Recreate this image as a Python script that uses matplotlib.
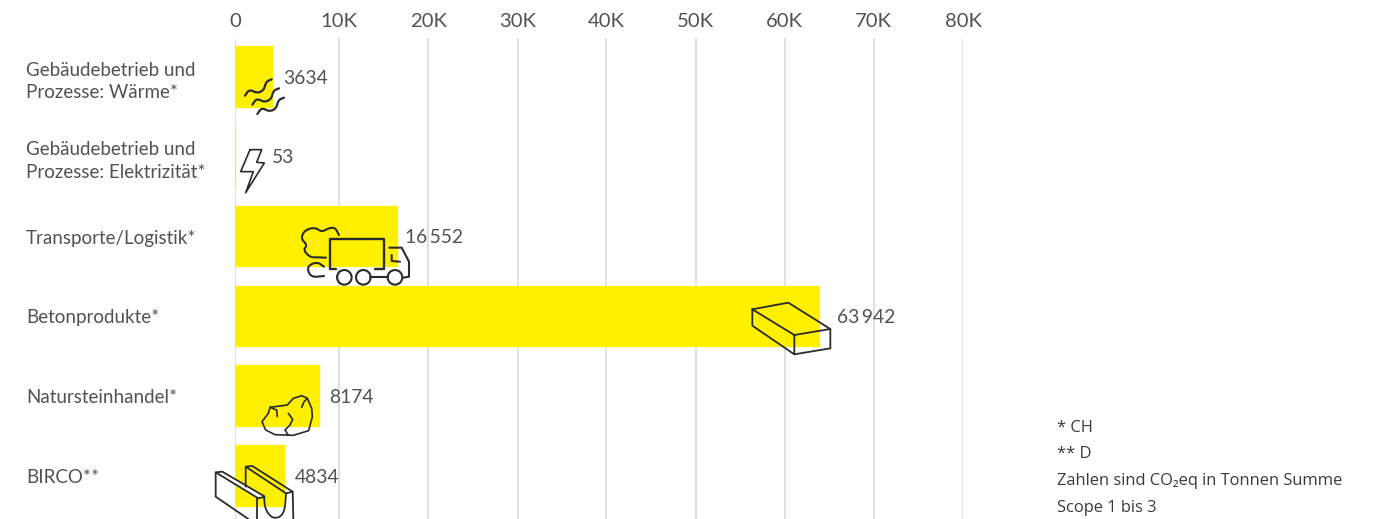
import numpy as np
import matplotlib
matplotlib.use("Agg")
import matplotlib.pyplot as plt
from matplotlib.patches import Polygon, Circle

W, H = 1376, 519
categories = ["Gebäudebetrieb und\nProzesse: Wärme*", "Gebäudebetrieb und\nProzesse: Elektrizität*",
              "Transporte/Logistik*", "Betonprodukte*", "Natursteinhandel*", "BIRCO**"]
values = [3634, 53, 16552, 63942, 8174, 4834]
value_labels = ["3634", "53", "16\u2009552", "63\u2009942", "8174", "4834"]
label_gaps_px = [10, 36, 7, 17, 9, 10]
ticks = [0, 10000, 20000, 30000, 40000, 50000, 60000, 70000, 80000]
tick_labels = ["0", "10K", "20K", "30K", "40K", "50K", "60K", "70K", "80K"]
notes = ["* CH", "** D", "Zahlen sind CO₂eq in Tonnen Summe", "Scope 1 bis 3"]

# axis has a widened first interval: tick pixel positions as in the reference
tick_px = [235, 339, 428.3, 517.6, 606.4, 695.5, 784.8, 873.8, 963]
forward = lambda v: np.interp(v, ticks, tick_px, left=235, right=963)
inverse = lambda p: np.interp(p, tick_px, ticks)

BAR = "#FFF000"; GRID = "#E0E0E0"; TXT = "#525252"; INK = "#2B2B2B"
plt.rcParams["font.family"] = ["Lato", "DejaVu Sans"]

fig = plt.figure(figsize=(W / 100, H / 100), dpi=100, facecolor="white")
ax = fig.add_axes([235 / W, 0, (963 - 235) / W, (H - 38) / H])
ax.set_xscale("function", functions=(forward, inverse))
ax.set_xlim(0, 80000)
ax.set_ylim((519 - 77) / 79.8, (38 - 77) / 79.8)
ax.set_axisbelow(True)
ax.grid(axis="x", color=GRID, lw=1.4)
ax.barh(range(len(values)), values, height=61.5 / 79.8, color=BAR, edgecolor=BAR, lw=0.2, zorder=2)
for s in ax.spines.values():
    s.set_visible(False)

ax.xaxis.tick_top()
ax.set_xticks(ticks)
ax.set_xticklabels(tick_labels, fontsize=14.6, color=TXT)
ax.xaxis.set_minor_locator(matplotlib.ticker.NullLocator())
ax.tick_params(axis="x", length=0, pad=5.5)
ax.set_yticks(range(len(categories)))
ax.set_yticklabels(categories, fontsize=13.5, color=TXT, ha="left", linespacing=1.42)
ax.tick_params(axis="y", length=0, pad=209 * 0.72)

for i, (v, t, g) in enumerate(zip(values, value_labels, label_gaps_px)):
    ax.annotate(t, (v, i), xytext=(g * 0.72, -0.8), textcoords="offset points",
                va="center", ha="left", fontsize=13.9, color=TXT, zorder=5)

# overlay in pixel coordinates for the icons and footnotes
ov = fig.add_axes([0, 0, 1, 1], facecolor="none")
ov.set_xlim(0, W); ov.set_ylim(H, 0); ov.axis("off")

def chaikin(p, n=3):
    for _ in range(n):
        q = [p[0]]
        for a, b in zip(p[:-1], p[1:]):
            q += [0.75 * a + 0.25 * b, 0.25 * a + 0.75 * b]
        q.append(p[-1])
        p = np.array(q)
    return p

def poly(pts, ox, oy, lw=1.3, smooth=False):
    p = np.array(pts, float)
    if smooth:
        p = chaikin(p)
    ov.plot(ox + p[:, 0] / 3, oy + p[:, 1] / 3, color=INK, lw=lw,
            solid_capstyle="round", solid_joinstyle="round", zorder=6)

# waves
wave = [(135, 287), (148, 268), (172, 280), (192, 270), (198, 245), (215, 238)]
for dx, dy in [(0, 0), (22, 27), (37, 55)]:
    poly([(x + dx, y + dy) for x, y in wave], 200, 0, 1.6, True)
# lightning
poly([(150, 449), (185, 449), (170, 487), (193, 489), (137, 578), (160, 515), (122, 515), (150, 449)], 200, 0, 1.2)
# truck
poly([(408, 807), (389, 807), (389, 717), (553, 717), (553, 807), (525, 807)], 200, 0, 1.7)
poly([(568, 743), (605, 743), (627, 785), (627, 830), (610, 833)], 200, 0, 1.5)
poly([(575, 765), (575, 783), (600, 785)], 200, 0, 1.5)
poly([(510, 832), (563, 832)], 200, 0, 1.5)
for cx in (433, 490, 585):
    ov.add_patch(Circle((200 + cx / 3, 832 / 3), 7.3, fc="none", ec=INK, lw=1.5, zorder=6))
poly([(417, 705), (405, 682), (385, 685), (365, 696), (345, 682), (315, 690), (302, 715),
      (322, 735), (310, 750), (330, 772), (355, 772), (378, 773)], 200, 0, 1.5, True)
poly([(372, 800), (350, 785), (320, 800), (332, 832), (372, 828)], 200, 0, 1.5, True)
# concrete block
poly([(67, 88), (175, 68), (301, 147), (193, 165), (67, 88), (67, 137), (193, 223), (193, 165)], 730, 280)
poly([(193, 223), (301, 205), (301, 147)], 730, 280)
# rock
poly([(210, 382), (262, 375), (280, 355), (305, 347), (322, 355), (335, 385), (337, 410), (326, 452),
      (280, 466), (225, 464), (197, 450), (186, 425), (205, 400), (210, 382)], 200, 280, 1.2)
poly([(210, 382), (230, 390), (232, 410)], 200, 280, 1.2)
poly([(265, 400), (278, 418), (270, 435), (255, 450), (265, 466)], 200, 280, 1.2)
poly([(305, 382), (312, 365), (322, 355)], 200, 280, 1.2)
# channel element
strip = [(47, 577), (67, 575), (195, 650), (175, 655)]
ov.add_patch(Polygon([(200 + x / 3, 280 + y / 3) for x, y in strip], fc="white", ec=INK, lw=1.3, zorder=5.5))
poly([(47, 577), (47, 650), (145, 717)], 200, 280)
poly([(137, 620), (137, 560), (157, 558), (278, 635), (258, 640), (137, 560)], 200, 280)
poly([(172, 717), (172, 655)], 200, 280)
poly([(192, 650), (195, 685), (210, 708), (225, 715), (245, 708), (255, 685), (258, 640)], 200, 280, 1.3, True)
poly([(278, 635), (280, 717)], 200, 280)

for y, n in zip([428, 454, 481, 508], notes):
    ov.text(1057, y, n, fontsize=11.9, color="#3A3A3A", va="center", ha="left",
            family=["Open Sans", "DejaVu Sans"])

fig.savefig("out.png", dpi=100, facecolor="white")
